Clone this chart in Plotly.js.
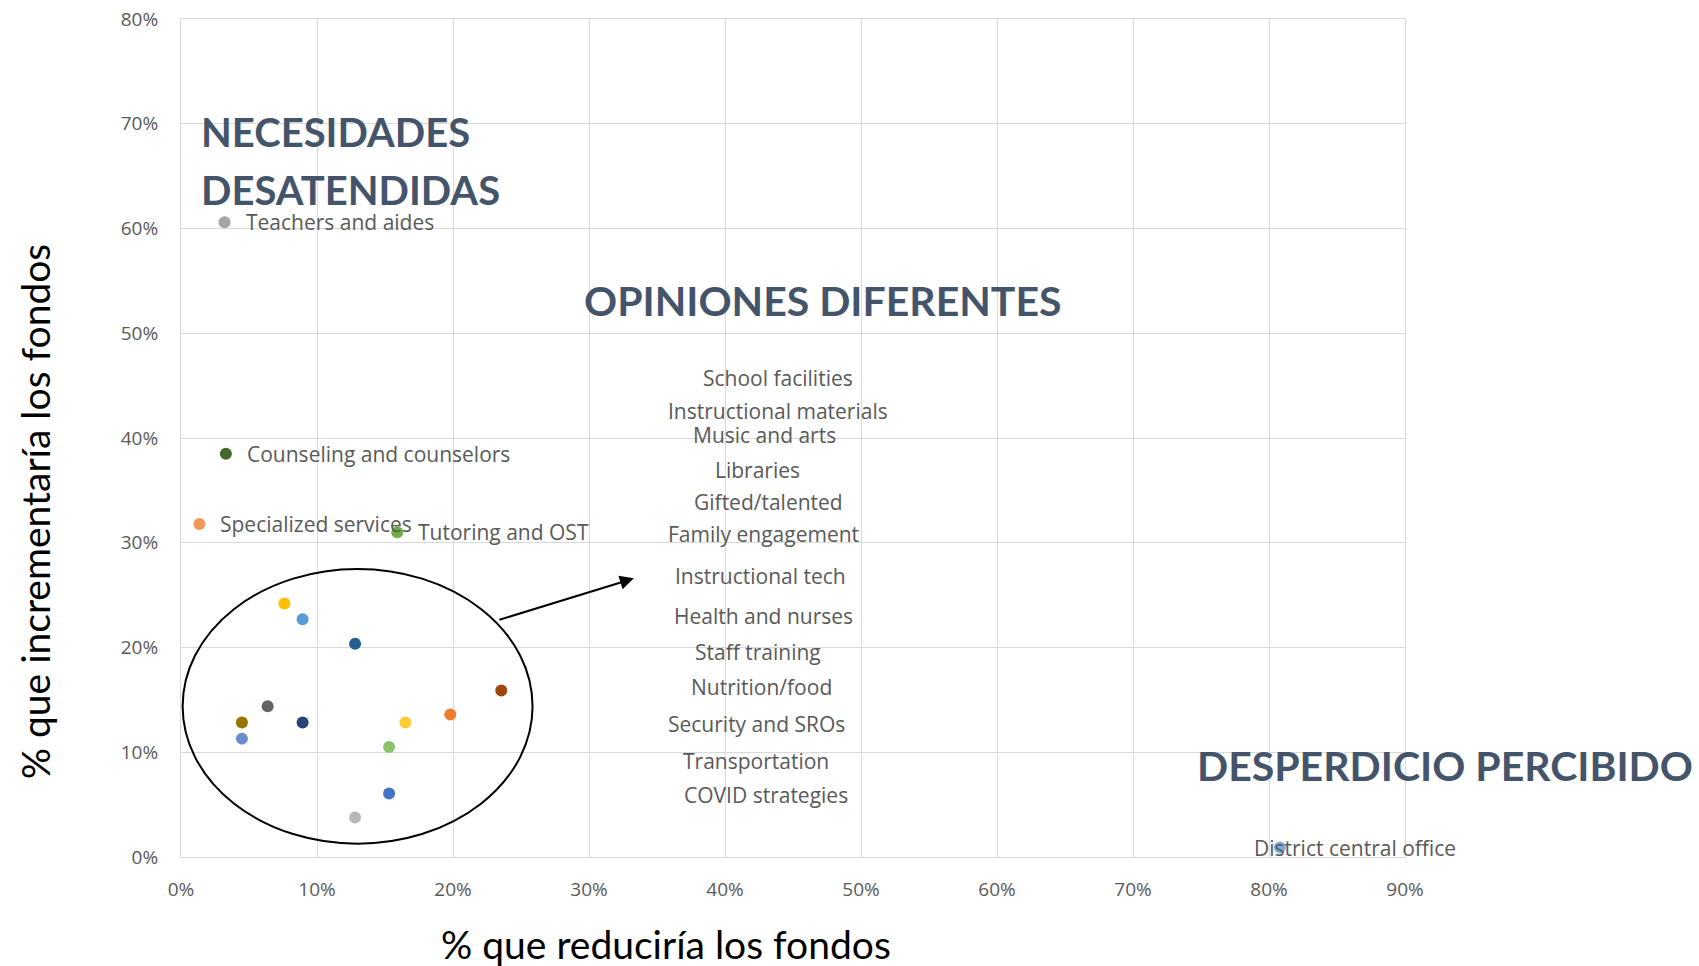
<!DOCTYPE html>
<html><head><meta charset="utf-8">
<script src="https://cdn.plot.ly/plotly-3.0.1.min.js"></script>
<style>html,body{margin:0;padding:0;background:#fff}#chart{width:1699px;height:966px}</style>
</head><body><div id="chart"></div>
<script>
// ---- data ----
const categories = [
  "Teachers and aides", "Counseling and counselors", "Specialized services", "Tutoring and OST",
  "District central office",
  "School facilities", "Instructional materials", "Music and arts", "Libraries", "Gifted/talented",
  "Family engagement", "Instructional tech", "Health and nurses", "Staff training", "Nutrition/food",
  "Security and SROs", "Transportation", "COVID strategies"
];
// share that would reduce funding (x)
const reduceFunds = [0.032, 0.033, 0.0135, 0.159, 0.808,
  0.076, 0.0894, 0.128, 0.2355, 0.0637, 0.198, 0.0894, 0.0448, 0.165, 0.0448, 0.153, 0.153, 0.128];
// share that would increase funding (y)
const increaseFunds = [0.606, 0.385, 0.318, 0.310, 0.009,
  0.242, 0.227, 0.2035, 0.159, 0.144, 0.136, 0.1285, 0.1285, 0.1285, 0.113, 0.105, 0.0607, 0.0378];
// which categories get a label next to their point
const pointLabeled = [true, true, true, true, true,
  false, false, false, false, false, false, false, false, false, false, false, false, false];

const xTickVals = [0, 0.1, 0.2, 0.3, 0.4, 0.5, 0.6, 0.7, 0.8, 0.9];
const xTickText = ["0%", "10%", "20%", "30%", "40%", "50%", "60%", "70%", "80%", "90%"];
const yTickVals = [0, 0.1, 0.2, 0.3, 0.4, 0.5, 0.6, 0.7, 0.8];
const yTickText = ["0%", "10%", "20%", "30%", "40%", "50%", "60%", "70%", "80%"];

const xTitle = "% que reduciría los fondos";
const yTitle = "% que incrementaría los fondos";
const quadrantTitles = ["NECESIDADES", "DESATENDIDAS", "OPINIONES DIFERENTES", "DESPERDICIO PERCIBIDO"];

// ---- styles ----
const palette = ["#A5A5A5", "#43682B", "#F1975A", "#70AD47", "#7CAFDD",
  "#FFC000", "#5B9BD5", "#255E91", "#9E480E", "#636363", "#ED7D31", "#264478", "#997300",
  "#FFCD33", "#698ED0", "#8CC168", "#4472C4", "#B7B7B7"];
const labelFont = {family: "'Open Sans', sans-serif", size: 21, color: "#595959"};
const tickFont = {family: "'Open Sans', sans-serif", size: 19, color: "#595959"};
const bigFont = {family: "Lato, 'Open Sans', sans-serif", size: 40, color: "#44546A", weight: 700};
const bigFont2 = {family: "Lato, 'Open Sans', sans-serif", size: 41, color: "#44546A", weight: 700};
const titleFont = {family: "Lato, 'Open Sans', sans-serif", size: 39, color: "#000000"};

const trace = {
  type: "scatter", mode: "markers",
  x: reduceFunds, y: increaseFunds, text: categories,
  hovertemplate: "%{text}<br>%{x:.0%} / %{y:.0%}<extra></extra>",
  marker: {size: 12, color: palette, line: {width: 0}},
  cliponaxis: false, showlegend: false
};

const annotations = [];
// labels beside points
categories.forEach((c, i) => {
  if (!pointLabeled[i]) return;
  annotations.push({
    x: reduceFunds[i], y: increaseFunds[i], xref: "x", yref: "y",
    text: c, showarrow: false, xanchor: "left", yanchor: "middle",
    xshift: (c === "District central office") ? -28 : 19, font: labelFont
  });
});
// stacked list of the circled categories
const listPos = [ // [x, y] centre of each label, data units
  [0.439, 0.457], [0.439, 0.426], [0.429, 0.403], [0.424, 0.369], [0.432, 0.339],
  [0.428, 0.3085], [0.426, 0.268], [0.428, 0.2296], [0.424, 0.196], [0.4265, 0.162],
  [0.423, 0.127], [0.4225, 0.092], [0.430, 0.0595]
];
categories.slice(5).forEach((c, k) => {
  annotations.push({x: listPos[k][0], y: listPos[k][1], xref: "x", yref: "y",
    text: c, showarrow: false, xanchor: "center", yanchor: "middle", font: labelFont});
});
// quadrant headings
annotations.push({x: 0.0135, y: 0.692, xref: "x", yref: "y", text: quadrantTitles[0], showarrow: false,
  xanchor: "left", yanchor: "middle", font: bigFont});
annotations.push({x: 0.0135, y: 0.637, xref: "x", yref: "y", text: quadrantTitles[1], showarrow: false,
  xanchor: "left", yanchor: "middle", font: bigFont});
annotations.push({x: 0.472, y: 0.5315, xref: "x", yref: "y", text: quadrantTitles[2], showarrow: false,
  xanchor: "center", yanchor: "middle", font: bigFont2});
annotations.push({x: 1.0327, y: 0.1088, xref: "paper", yref: "paper", text: quadrantTitles[3], showarrow: false,
  xanchor: "center", yanchor: "middle", font: bigFont2});
// arrow from circle to list
annotations.push({x: 0.333, y: 0.266, ax: 0.233, ay: 0.226, xref: "x", yref: "y", axref: "x", ayref: "y",
  text: "", showarrow: true, arrowhead: 2, arrowsize: 1.4, arrowwidth: 2, arrowcolor: "#000"});
// axis titles
annotations.push({x: 0.396, y: -0.1035, xref: "paper", yref: "paper", text: xTitle, showarrow: false,
  xanchor: "center", yanchor: "middle", font: titleFont});
annotations.push({x: -0.119, y: 0.413, xref: "paper", yref: "paper", text: yTitle, showarrow: false,
  xanchor: "center", yanchor: "middle", textangle: -90, font: titleFont});

const layout = {
  width: 1699, height: 966,
  margin: {l: 181, r: 294, t: 19, b: 109},
  paper_bgcolor: "#fff", plot_bgcolor: "#fff",
  xaxis: {range: [0, 0.9], tickvals: xTickVals, ticktext: xTickText, showgrid: true, gridcolor: "#D9D9D9",
    zeroline: false, showline: true, mirror: true, linecolor: "#D9D9D9", linewidth: 1,
    ticks: "outside", ticklen: 15, tickcolor: "rgba(0,0,0,0)", tickfont: tickFont, fixedrange: true},
  yaxis: {range: [0, 0.8], tickvals: yTickVals, ticktext: yTickText, showgrid: true, gridcolor: "#D9D9D9",
    zeroline: false, showline: true, mirror: true, linecolor: "#D9D9D9", linewidth: 1,
    ticks: "outside", ticklen: 18, tickcolor: "rgba(0,0,0,0)", tickfont: tickFont, fixedrange: true},
  shapes: [{type: "circle", xref: "x", yref: "y", x0: 0.0012, x1: 0.2585, y0: 0.0127, y1: 0.275,
    line: {color: "#000", width: 2}, fillcolor: "rgba(0,0,0,0)", layer: "above"}],
  annotations: annotations
};

Plotly.newPlot("chart", [trace], layout, {displayModeBar: false});
</script>
</body></html>
